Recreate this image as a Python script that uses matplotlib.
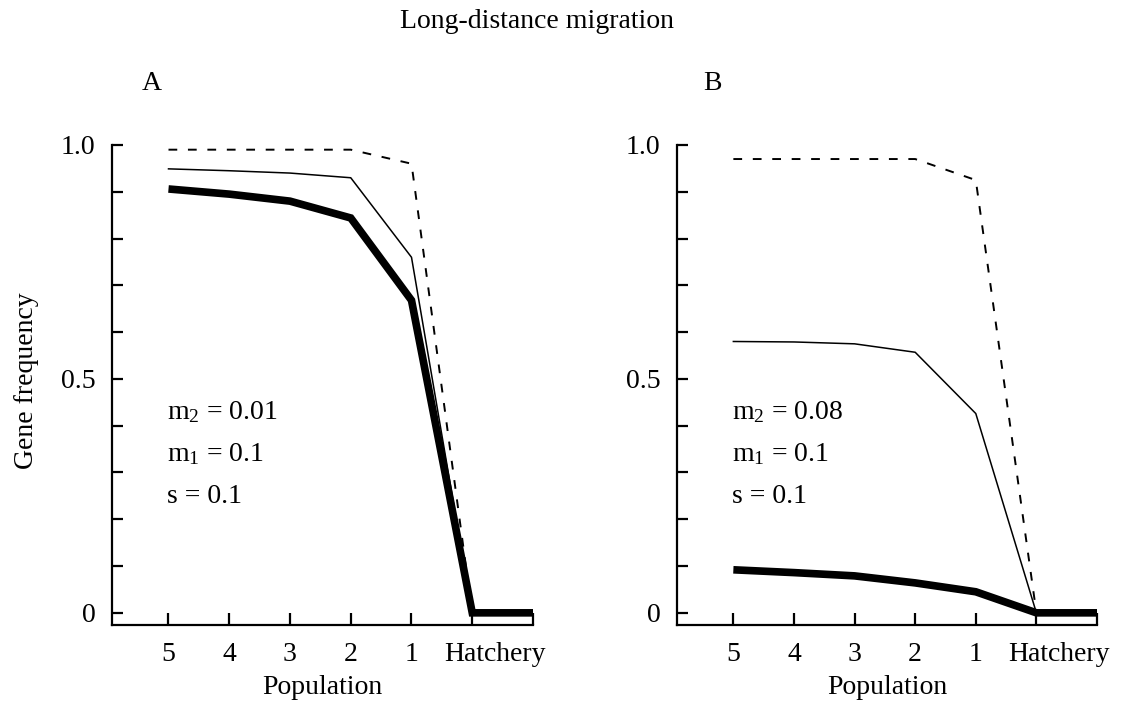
import matplotlib
matplotlib.use("Agg")
import matplotlib.pyplot as plt
from matplotlib.ticker import FixedLocator, FixedFormatter

plt.rcParams["font.family"] = ["Liberation Serif", "DejaVu Serif"]
plt.rcParams["mathtext.fontset"] = "custom"
plt.rcParams["mathtext.rm"] = "Liberation Serif"
plt.rcParams["mathtext.it"] = "Liberation Serif"

# Populations along the x axis, left to right, then the hatchery
populations = ["5", "4", "3", "2", "1"]
hatchery_label = "Hatchery"
x_points = [0, 1, 2, 3, 4, 5, 6]

# Panel A: m2 = 0.01
a_dashed = [0.99, 0.99, 0.99, 0.99, 0.96, 0.0]
a_thin = [0.949, 0.945, 0.940, 0.930, 0.760, 0.0]
a_thick = [0.906, 0.895, 0.880, 0.844, 0.668, 0.0, 0.0]

# Panel B: m2 = 0.08
b_dashed = [0.970, 0.970, 0.970, 0.970, 0.925, 0.0]
b_thin = [0.580, 0.579, 0.575, 0.557, 0.426, 0.0]
b_thick = [0.092, 0.086, 0.079, 0.064, 0.045, 0.0, 0.0]

a_params = ["m$_2$ = 0.01", "m$_1$ = 0.1", "s = 0.1"]
b_params = ["m$_2$ = 0.08", "m$_1$ = 0.1", "s = 0.1"]

FS = 20

fig = plt.figure(figsize=(11.21, 7.07), dpi=100)
axA = fig.add_axes([112 / 1121, 82 / 707, 421 / 1121, 480 / 707])
axB = fig.add_axes([677 / 1121, 82 / 707, 420 / 1121, 480 / 707])


def style_axis(ax):
    ax.set_xlim(-0.93, 6.0)
    ax.set_ylim(-0.026, 1.0)
    for side in ("top", "right"):
        ax.spines[side].set_visible(False)
    for side in ("left", "bottom"):
        ax.spines[side].set_linewidth(1.6)
        ax.spines[side].set_color("black")

    ax.yaxis.set_major_locator(FixedLocator([0, 0.5, 1.0]))
    ax.yaxis.set_major_formatter(FixedFormatter(["0", "0.5", "1.0"]))
    ax.yaxis.set_minor_locator(FixedLocator([0.1, 0.2, 0.3, 0.4, 0.6, 0.7, 0.8, 0.9]))
    ax.tick_params(axis="y", which="both", direction="in", length=8, width=1.6,
                   pad=12, labelsize=FS)

    ax.xaxis.set_major_locator(FixedLocator(x_points))
    ax.xaxis.set_major_formatter(FixedFormatter(populations + ["", ""]))
    ax.xaxis.set_minor_locator(FixedLocator([5.38]))
    ax.xaxis.set_minor_formatter(FixedFormatter([hatchery_label]))
    ax.tick_params(axis="x", which="major", direction="in", length=9, width=1.6,
                   pad=12, labelsize=FS)
    ax.tick_params(axis="x", which="minor", length=0, pad=12, labelsize=FS)
    ax.set_xlabel("Population", fontsize=FS, labelpad=6)


def draw_panel(ax, dashed, thin, thick, params):
    ax.plot(x_points[:6], dashed, color="black", lw=1.4, linestyle=(0, (4.5, 5.5)))
    ax.plot(x_points[:6], thin, color="black", lw=1.1)
    ax.plot(x_points, thick, color="black", lw=5.5, solid_joinstyle="miter",
            solid_capstyle="butt")
    for i, t in enumerate(params):
        ax.text(-0.02, 0.43 - i * 0.091, t, fontsize=FS, ha="left", va="center")


style_axis(axA)
style_axis(axB)
draw_panel(axA, a_dashed, a_thin, a_thick, a_params)
draw_panel(axB, b_dashed, b_thin, b_thick, b_params)

# Panel letters, title and shared y label
fig.text(152 / 1121, 1 - 84 / 707, "A", fontsize=FS, ha="center", va="center")
fig.text(712 / 1121, 1 - 84 / 707, "B", fontsize=FS, ha="center", va="center")
fig.text(537 / 1121, 1 - 22 / 707, "Long-distance migration", fontsize=FS,
         ha="center", va="center")
fig.text(27 / 1121, 1 - 381 / 707, "Gene frequency", fontsize=FS,
         ha="center", va="center", rotation=90)

fig.savefig("out.png", dpi=100, facecolor="white")
